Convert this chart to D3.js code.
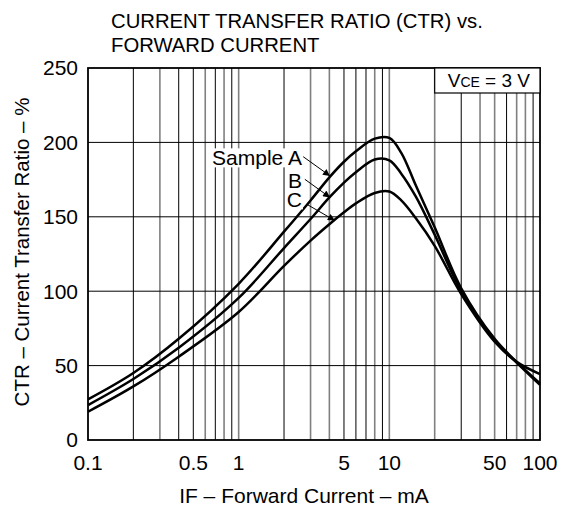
<!DOCTYPE html>
<html>
<head>
<meta charset="utf-8">
<script src="https://cdn.jsdelivr.net/npm/d3@7"></script>
<style>
  body { margin: 0; background: #fff; }
  svg { font-family: "Liberation Sans", Arial, sans-serif; }
</style>
</head>
<body>
<svg id="chart" width="570" height="512"></svg>
<script>
// forward current (mA) and CTR (%)
const current = [0.1, 0.2, 0.4, 1, 2, 3, 4, 5, 6, 8, 10, 12, 15, 20, 30, 50, 70, 100];
const sampleA = [27.3, 45, 68, 105, 140, 161, 176.5, 187, 194, 202.5, 203, 193, 171, 143, 102, 68, 52.5, 38];
const sampleB = [23.5, 41, 62, 95.5, 129, 148.5, 163, 173, 180, 188.5, 188, 179, 163.5, 138, 100, 67, 52, 37];
const sampleC = [19, 36, 56, 86, 117, 134, 145, 153, 159, 166, 167, 161, 149, 130.5, 98, 66, 52.5, 44.3];

const yTicks = [0, 50, 100, 150, 200, 250];
const xTickLabels = [0.1, 0.5, 1, 5, 10, 50, 100];
const grayLines = [0.3, 0.6, 0.8, 1, 3, 4, 8, 10, 20, 40, 50, 70, 80];

const svg = d3.select("#chart");
const margin = {top: 68, right: 30, bottom: 72, left: 88};
const width = 570, height = 512;
const innerWidth = width - margin.left - margin.right;
const innerHeight = height - margin.top - margin.bottom;
const fs = 21;

const x = d3.scaleLog().domain([0.1, 100]).range([0, innerWidth]);
const y = d3.scaleLinear().domain([0, 250]).range([innerHeight, 0]);

const g = svg.append("g").attr("transform", `translate(${margin.left},${margin.top})`);

// vertical grid: every 1..9 of each decade
const minor = [];
[0.1, 1, 10].forEach(d => { for (let i = 1; i <= 10; i++) minor.push(+(d * i).toPrecision(3)); });
const vlines = Array.from(new Set(minor)).filter(v => v > 0.1 && v < 100);

g.selectAll(".vgrid").data(vlines).enter().append("line")
  .attr("x1", d => x(d)).attr("x2", d => x(d))
  .attr("y1", 0).attr("y2", innerHeight)
  .attr("stroke", d => grayLines.includes(d) ? "#808080" : "#000")
  .attr("stroke-width", d => grayLines.includes(d) ? 1.6 : 1);

g.selectAll(".hgrid").data(yTicks.slice(1, -1)).enter().append("line")
  .attr("x1", 0).attr("x2", innerWidth)
  .attr("y1", d => y(d)).attr("y2", d => y(d))
  .attr("stroke", "#000").attr("stroke-width", 1);

// curves
const line = d3.line()
  .x(d => x(d[0]))
  .y(d => y(d[1]))
  .curve(d3.curveCatmullRom.alpha(0.5));

[sampleA, sampleB, sampleC].forEach(s => {
  g.append("path")
    .attr("d", line(current.map((c, i) => [c, s[i]])))
    .attr("fill", "none")
    .attr("stroke", "#000")
    .attr("stroke-width", 2.5);
});

// frame
g.append("rect")
  .attr("width", innerWidth).attr("height", innerHeight)
  .attr("fill", "none").attr("stroke", "#000").attr("stroke-width", 1.8);

// tick labels
g.selectAll(".ylab").data(yTicks).enter().append("text")
  .attr("x", -10).attr("y", d => y(d))
  .attr("dy", "0.35em")
  .attr("text-anchor", "end")
  .attr("font-size", fs)
  .text(d => d);

g.selectAll(".xlab").data(xTickLabels).enter().append("text")
  .attr("x", d => x(d)).attr("y", innerHeight + 30)
  .attr("text-anchor", "middle")
  .attr("font-size", fs)
  .text(d => d);

// axis titles
svg.append("text")
  .attr("x", 304).attr("y", 503)
  .attr("text-anchor", "middle").attr("font-size", fs)
  .text("IF – Forward Current – mA");

svg.append("text")
  .attr("transform", `translate(29,${margin.top + innerHeight / 2 - 2}) rotate(-90)`)
  .attr("text-anchor", "middle").attr("font-size", 20.5)
  .text("CTR – Current Transfer Ratio – %");

// chart title
svg.append("text").attr("x", 111).attr("y", 28).attr("font-size", 20.3)
  .text("CURRENT TRANSFER RATIO (CTR) vs.");
svg.append("text").attr("x", 111).attr("y", 52).attr("font-size", 20.3)
  .text("FORWARD CURRENT");

// VCE box
const boxLeft = x(20);
g.append("rect")
  .attr("x", boxLeft).attr("y", 0)
  .attr("width", innerWidth - boxLeft).attr("height", 25)
  .attr("fill", "#fff").attr("stroke", "#000").attr("stroke-width", 1.2);
const vce = g.append("text")
  .attr("x", boxLeft + 13).attr("y", 19).attr("font-size", 19);
vce.append("tspan").text("V");
vce.append("tspan").attr("font-size", 14).text("CE");
vce.append("tspan").text(" = 3 V");

// sample labels with arrows
svg.append("defs").append("marker")
  .attr("id", "arr").attr("viewBox", "0 0 10 10")
  .attr("refX", 10).attr("refY", 5)
  .attr("markerWidth", 9).attr("markerHeight", 7)
  .attr("orient", "auto")
  .append("path").attr("d", "M0,0 L10,5 L0,10 z").attr("fill", "#000");

const labels = [
  {text: "Sample A", lx: 2.63, ly: 189.5, sx: 2.68, sy: 190.4, tx: 4.04, ty: 177.5},
  {text: "B", lx: 2.63, ly: 174, sx: 2.75, sy: 175.2, tx: 4.04, ty: 163},
  {text: "C", lx: 2.63, ly: 161.3, sx: 2.88, sy: 158, tx: 4.35, ty: 147.5}
];
labels.forEach(l => {
  const t = g.append("text")
    .attr("x", x(l.lx)).attr("y", y(l.ly))
    .attr("dy", "0.35em")
    .attr("text-anchor", "end")
    .attr("font-size", fs)
    .text(l.text);
  const bb = t.node().getBBox();
  g.insert("rect", "text")
    .attr("x", bb.x - 1).attr("y", bb.y + 2)
    .attr("width", bb.width + 2).attr("height", bb.height - 4)
    .attr("fill", "#fff");
  t.raise();
  g.append("line")
    .attr("x1", x(l.sx)).attr("y1", y(l.sy))
    .attr("x2", x(l.tx)).attr("y2", y(l.ty))
    .attr("stroke", "#000").attr("stroke-width", 1)
    .attr("marker-end", "url(#arr)");
});
</script>
</body>
</html>
